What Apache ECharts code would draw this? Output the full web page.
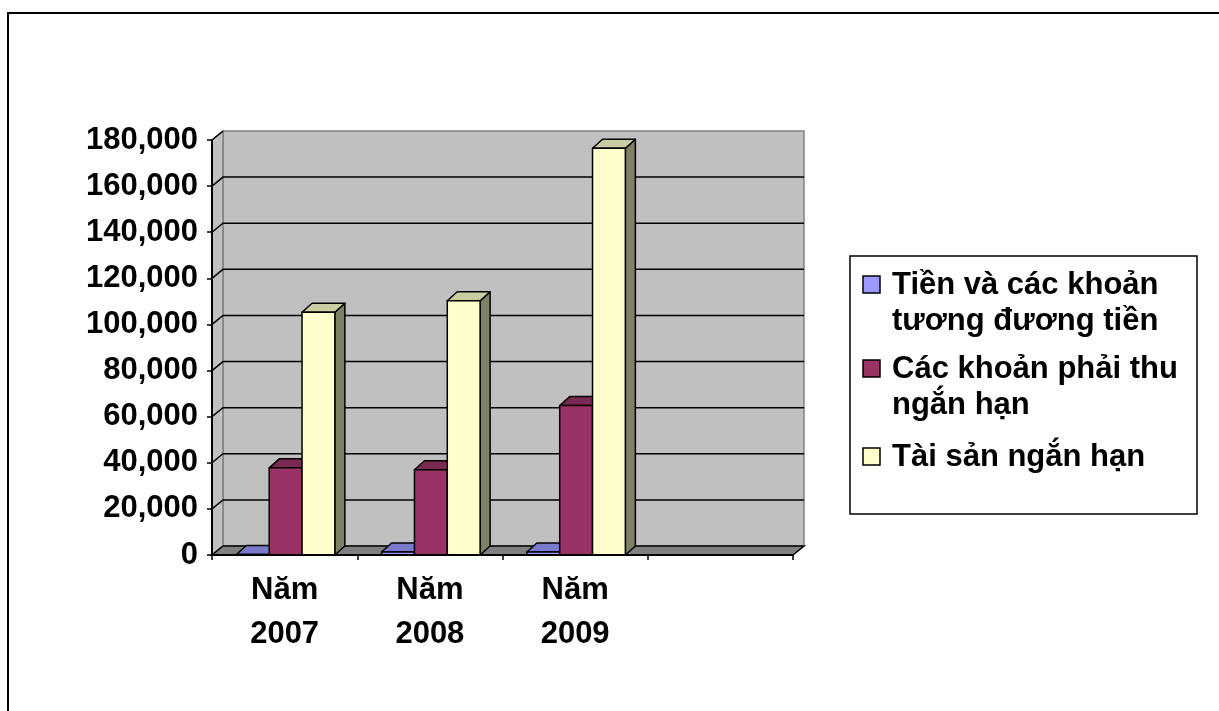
<!DOCTYPE html>
<html>
<head>
<meta charset="utf-8">
<script src="https://cdn.jsdelivr.net/npm/echarts@6/dist/echarts.min.js"></script>
<style>
  html, body { margin: 0; padding: 0; background: #ffffff; }
  #chart { width: 1219px; height: 711px; }
</style>
</head>
<body>
<div id="chart"></div>
<script>
// Categories along the x axis (the fourth slot is left empty)
const categories = ['Năm\n2007', 'Năm\n2008', 'Năm\n2009', ''];

// Series values
const tienVaTuongDuong = [200, 1300, 1300];
const phaiThuNganHan = [37800, 37000, 64800];
const taiSanNganHan = [105300, 110300, 176400];

const seriesNames = [
  'Tiền và các khoản tương đương tiền',
  'Các khoản phải thu ngắn hạn',
  'Tài sản ngắn hạn'
];
const legendLabels = [
  'Tiền và các khoản\ntương đương tiền',
  'Các khoản phải thu\nngắn hạn',
  'Tài sản ngắn hạn'
];

// Value axis ticks
const yTicks = [0, 20000, 40000, 60000, 80000, 100000, 120000, 140000, 160000, 180000];

// Face colours: front, top, side
const palette = [
  { front: '#9999FF', top: '#7A7ACC', side: '#4D4D80' },
  { front: '#993366', top: '#7A2952', side: '#4D1A33' },
  { front: '#FFFFCC', top: '#CCCCA3', side: '#808066' }
];

const FONT = "'Liberation Sans', Arial, sans-serif";
const WALL_DX = 11, WALL_DY = 9;   // depth of the walls and floor
const BAR_DX = 10, BAR_DY = 9;     // depth of each column
const BAR_FRAC = 0.226;            // column width as a share of a category band

const chart = echarts.init(document.getElementById('chart'), null, { renderer: 'canvas' });

// Walls, floor and gridlines of the 3D box
function renderWalls(params, api) {
  const cs = params.coordSys;
  const x0 = cs.x, x1 = cs.x + cs.width;
  const yTop = cs.y, yBot = cs.y + cs.height;
  const children = [];
  // back wall
  children.push({
    type: 'rect',
    shape: { x: x0 + WALL_DX, y: yTop - WALL_DY, width: cs.width, height: cs.height },
    style: { fill: '#C0C0C0', stroke: '#808080', lineWidth: 1.5 }
  });
  // side wall
  children.push({
    type: 'polygon',
    shape: { points: [[x0, yBot], [x0, yTop], [x0 + WALL_DX, yTop - WALL_DY], [x0 + WALL_DX, yBot - WALL_DY]] },
    style: { fill: '#C0C0C0', stroke: '#808080', lineWidth: 1.5 }
  });
  // gridlines across the side wall and the back wall
  yTicks.forEach(function (v) {
    if (v === 0 || v === yTicks[yTicks.length - 1]) return;
    const y = api.coord([0, v])[1];
    children.push({
      type: 'polyline',
      shape: { points: [[x0, y], [x0 + WALL_DX, y - WALL_DY], [x1 + WALL_DX, y - WALL_DY]] },
      style: { stroke: '#000000', lineWidth: 1.5, fill: null }
    });
  });
  // top edge of the side wall
  children.push({
    type: 'line',
    shape: { x1: x0, y1: yTop, x2: x0 + WALL_DX, y2: yTop - WALL_DY },
    style: { stroke: '#000000', lineWidth: 1.5 }
  });
  // floor
  children.push({
    type: 'polygon',
    shape: { points: [[x0, yBot], [x1, yBot], [x1 + WALL_DX, yBot - WALL_DY], [x0 + WALL_DX, yBot - WALL_DY]] },
    style: { fill: '#808080', stroke: '#000000', lineWidth: 1.5 }
  });
  return { type: 'group', children: children };
}

// One 3D column: front face, top face and right side face
function columnRenderer(idx) {
  const col = palette[idx];
  return function (params, api) {
    const cat = api.value(0), val = api.value(1);
    const base = api.coord([cat, 0]);
    const top = api.coord([cat, val]);
    const band = api.size([1, 0])[0];
    const w = band * BAR_FRAC;
    const xl = base[0] + (idx - 1) * w - w / 2 + 1;
    const xr = xl + w;
    const y0 = base[1], yv = top[1];
    const stroke = { stroke: '#000000', lineWidth: 1.5, lineJoin: 'round' };
    return {
      type: 'group',
      children: [
        {
          type: 'polygon',
          shape: { points: [[xr, yv], [xr + BAR_DX, yv - BAR_DY], [xr + BAR_DX, y0 - BAR_DY], [xr, y0]] },
          style: Object.assign({ fill: col.side }, stroke)
        },
        {
          type: 'polygon',
          shape: { points: [[xl, yv], [xl + BAR_DX, yv - BAR_DY], [xr + BAR_DX, yv - BAR_DY], [xr, yv]] },
          style: Object.assign({ fill: col.top }, stroke)
        },
        {
          type: 'rect',
          shape: { x: xl, y: yv, width: w, height: y0 - yv },
          style: Object.assign({ fill: col.front }, stroke)
        }
      ]
    };
  };
}

const valueSets = [tienVaTuongDuong, phaiThuNganHan, taiSanNganHan];

const series = [{
  type: 'custom',
  name: 'walls',
  renderItem: renderWalls,
  data: [[0, 0]],
  silent: true,
  z: 1
}];
valueSets.forEach(function (vals, idx) {
  series.push({
    type: 'custom',
    name: seriesNames[idx],
    renderItem: columnRenderer(idx),
    data: vals.map(function (v, i) { return [i, v]; }),
    encode: { x: 0, y: 1 },
    z: 2 + idx
  });
});

// Legend box drawn as graphic elements
const legendGraphics = [{
  type: 'rect',
  shape: { x: 850, y: 256, width: 347, height: 258 },
  style: { fill: '#ffffff', stroke: '#000000', lineWidth: 1.5 },
  z: 10
}];
const legendRows = [285, 369, 457];
legendLabels.forEach(function (label, idx) {
  const cy = legendRows[idx];
  legendGraphics.push({
    type: 'rect',
    shape: { x: 863, y: cy - 9, width: 17, height: 17 },
    style: { fill: palette[idx].front, stroke: '#000000', lineWidth: 1.5 },
    z: 11
  });
  legendGraphics.push({
    type: 'text',
    x: 892,
    y: cy - 18,
    style: {
      text: label,
      font: 'bold 31px ' + FONT,
      fill: '#000000',
      lineHeight: 36,
      verticalAlign: 'top',
      align: 'left'
    },
    z: 11
  });
});

const option = {
  animation: false,
  backgroundColor: '#ffffff',
  grid: { left: 212, top: 140, width: 581, height: 415, containLabel: false },
  xAxis: {
    type: 'category',
    data: categories,
    boundaryGap: true,
    axisLine: { show: true, lineStyle: { color: '#000000', width: 2 } },
    axisTick: { show: true, length: 5, lineStyle: { color: '#000000', width: 1.5 } },
    axisLabel: {
      color: '#000000',
      fontFamily: FONT,
      fontWeight: 'bold',
      fontSize: 31,
      lineHeight: 44,
      margin: 13,
      interval: 0
    },
    splitLine: { show: false },
    z: 20
  },
  yAxis: {
    type: 'value',
    min: 0,
    max: 180000,
    interval: 20000,
    axisLine: { show: true, lineStyle: { color: '#000000', width: 2 } },
    axisTick: { show: true, length: 5, lineStyle: { color: '#000000', width: 1.5 } },
    axisLabel: {
      color: '#000000',
      fontFamily: FONT,
      fontWeight: 'bold',
      fontSize: 31,
      margin: 14,
      formatter: function (v) { return v.toLocaleString('en-US'); }
    },
    splitLine: { show: false },
    z: 20
  },
  series: series,
  graphic: [{
    type: 'rect',
    shape: { x: 8, y: 13, width: 1240, height: 720 },
    style: { fill: null, stroke: '#000000', lineWidth: 2 },
    z: 0
  }].concat(legendGraphics)
};

chart.setOption(option);
</script>
</body>
</html>
